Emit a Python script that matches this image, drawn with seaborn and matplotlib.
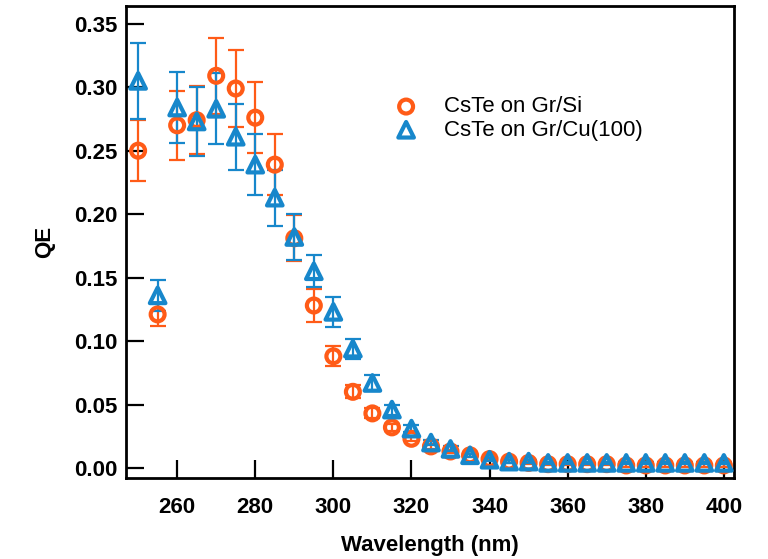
import matplotlib
matplotlib.use("Agg")
import matplotlib.pyplot as plt
import seaborn as sns

# Photon wavelength (nm)
wavelength = [250, 255, 260, 265, 270, 275, 280, 285, 290, 295, 300,
              305, 310, 315, 320, 325, 330, 335, 340, 345, 350,
              355, 360, 365, 370, 375, 380, 385, 390, 395, 400]

# CsTe on Gr/Si
qe_si = [0.250, 0.121, 0.270, 0.274, 0.309, 0.299, 0.276, 0.239, 0.181, 0.128, 0.088,
         0.060, 0.043, 0.032, 0.023, 0.017, 0.013, 0.010, 0.007, 0.005, 0.004,
         0.003, 0.003, 0.003, 0.003, 0.002, 0.002, 0.002, 0.002, 0.002, 0.002]
err_si = [0.024, 0.009, 0.027, 0.027, 0.030, 0.030, 0.028, 0.024, 0.018, 0.013, 0.008,
          0.005, 0.004, 0.003, 0.002, 0.002, 0.001, 0.001, 0.001, 0.001, 0.001,
          0.001, 0.001, 0.001, 0.001, 0.001, 0.001, 0.001, 0.001, 0.001, 0.001]

# CsTe on Gr/Cu(100)
qe_cu = [0.305, 0.136, 0.284, 0.273, 0.283, 0.261, 0.239, 0.213, 0.182, 0.155, 0.123,
         0.094, 0.067, 0.046, 0.031, 0.020, 0.015, 0.010, 0.0065, 0.005, 0.005,
         0.004, 0.004, 0.004, 0.004, 0.004, 0.004, 0.004, 0.004, 0.004, 0.004]
err_cu = [0.030, 0.012, 0.028, 0.027, 0.028, 0.026, 0.024, 0.022, 0.018, 0.0125, 0.012,
          0.008, 0.006, 0.004, 0.003, 0.002, 0.002, 0.001, 0.001, 0.001, 0.001,
          0.001, 0.001, 0.001, 0.001, 0.001, 0.001, 0.001, 0.001, 0.001, 0.001]

labels = ["CsTe on Gr/Si", "CsTe on Gr/Cu(100)"]
colors = ["#FF5B17", "#1787CB"]

x_ticks = [260, 280, 300, 320, 340, 360, 380, 400]
y_ticks = [0.00, 0.05, 0.10, 0.15, 0.20, 0.25, 0.30, 0.35]

sns.set_theme(style="ticks")
plt.rcParams["font.family"] = ["Liberation Sans", "DejaVu Sans"]
plt.rcParams["text.color"] = "black"
plt.rcParams["axes.labelcolor"] = "black"

fig = plt.figure(figsize=(7.68, 5.59), dpi=100)
ax = fig.add_axes([126 / 768, 1 - 478 / 559, (734 - 126) / 768, (478 - 6) / 559])

series = [(qe_si, err_si, "o", 100), (qe_cu, err_cu, "^", 125)]
for (qe, err, marker, size), label, color in zip(series, labels, colors):
    ax.errorbar(wavelength, qe, yerr=err, fmt="none", ecolor=color,
                elinewidth=1.6, capsize=6, capthick=1.6, zorder=2)
    sns.scatterplot(x=wavelength, y=qe, ax=ax, marker=marker, s=size,
                    facecolors="none", edgecolor=color, linewidth=3.0,
                    label=label, zorder=3)

ax.set_xlim(246.9, 402.6)
ax.set_ylim(-0.0079, 0.364)
ax.set_xticks(x_ticks)
ax.set_yticks(y_ticks)
ax.set_xticklabels([str(v) for v in x_ticks])
ax.set_yticklabels([f"{v:.2f}" for v in y_ticks])

for side in ["left", "right", "top", "bottom"]:
    ax.spines[side].set_visible(True)
    ax.spines[side].set_linewidth(2.0)
    ax.spines[side].set_color("black")

ax.tick_params(axis="both", direction="in", length=13, width=1.6, color="black",
               labelsize=16, labelcolor="black")
ax.tick_params(axis="x", pad=14)
ax.tick_params(axis="y", pad=6)
for lab in ax.get_xticklabels() + ax.get_yticklabels():
    lab.set_fontweight("bold")

ax.set_xlabel("Wavelength (nm)", fontsize=16, fontweight="bold", labelpad=12)
ax.set_ylabel("QE", fontsize=16, fontweight="bold", labelpad=14)

leg = ax.legend(loc="center left", bbox_to_anchor=(395 / 768, 1 - 118.5 / 559),
                bbox_transform=fig.transFigure, frameon=False, fontsize=16,
                handlelength=1.0, handletextpad=1.2, labelspacing=0.1,
                borderpad=0, borderaxespad=0, scatterpoints=1)

fig.savefig("out.png", dpi=100)
